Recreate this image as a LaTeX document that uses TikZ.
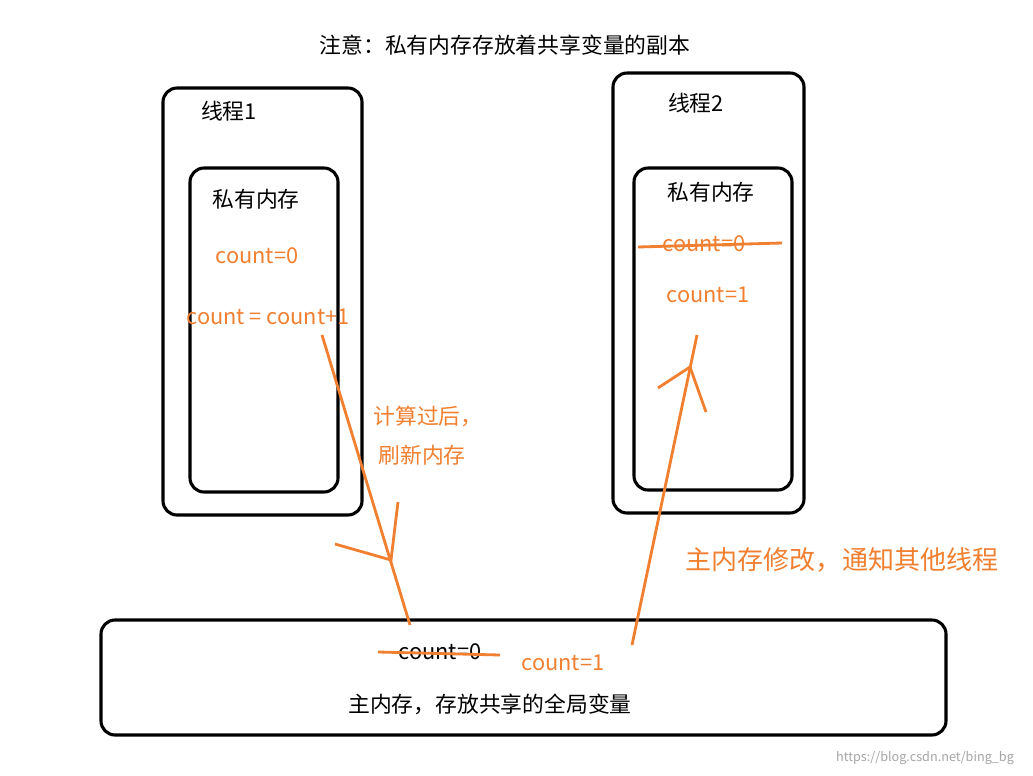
\documentclass[tikz,border=0pt]{standalone}
\usepackage{fontspec}
\setmainfont{Noto Sans CJK SC}
\begin{document}
\begin{tikzpicture}[x=0.025cm,y=-0.025cm,
  box/.style={draw=black,line width=2.2pt,rounded corners=10pt},
  txt/.style={font=\fontsize{15.5}{17}\selectfont,inner sep=0pt},
  otxt/.style={txt,text=orangec},
  oline/.style={draw=orangec,line width=2pt}]
\definecolor{orangec}{RGB}{240,128,48}
\useasboundingbox[fill=white] (0,0) rectangle (1033,776);
\node[txt] (title) at (505,45) {注意：私有内存存放着共享变量的副本};
% thread 1
\draw[box] (163,88) rectangle (362,515);
\node[txt] (t1) at (229,111) {线程1};
\draw[box] (190,168) rectangle (338,492);
\node[txt] (p1) at (256,199) {私有内存};
\node[otxt] (c10) at (257,256) {count=0};
\node[otxt] (c11) at (268,317) {count = count+1};
% thread 2
\draw[box] (613,73) rectangle (804,513);
\node[txt] (t2) at (696,103) {线程2};
\draw[box] (634,168) rectangle (792,490);
\node[txt] (p2) at (711,192) {私有内存};
\node[otxt] (c20) at (704,244) {count=0};
\draw[oline] (638,247) -- (782,243);
\node[otxt] (c21) at (708,295) {count=1};
% main memory
\draw[box] (101,620) rectangle (946,735);
\node[txt] (m0) at (440,652) {count=0};
\draw[oline] (378,652) -- (500,655);
\node[otxt] (m1) at (563,663) {count=1};
\node[txt] (mm) at (490,704) {主内存，存放共享的全局变量};
% arrow 1
\coordinate (a1s) at (322,335);
\coordinate (a1e) at (410,625);
\coordinate (h1) at (391,560);
\draw[oline] (a1s) -- (a1e);
\draw[oline] (335,544) -- (h1) -- (398,502);
\node[otxt] (l1) at (428,416) {计算过后，};
\node[otxt] (l2) at (422,455) {刷新内存};
% arrow 2
\coordinate (a2s) at (632,645);
\coordinate (a2e) at (697,335);
\coordinate (h2) at (690,367);
\draw[oline] (a2s) -- (a2e);
\draw[oline] (658,388) -- (h2) -- (706,412);
\node[otxt,font=\fontsize{18.5}{20}\selectfont] (l3) at (842,560) {主内存修改，通知其他线程};
\node[txt,text=gray!70,font=\fontsize{9}{10}\selectfont] (wm) at (925,758) {https://blog.csdn.net/bing\_bg};
\end{tikzpicture}
\end{document}
